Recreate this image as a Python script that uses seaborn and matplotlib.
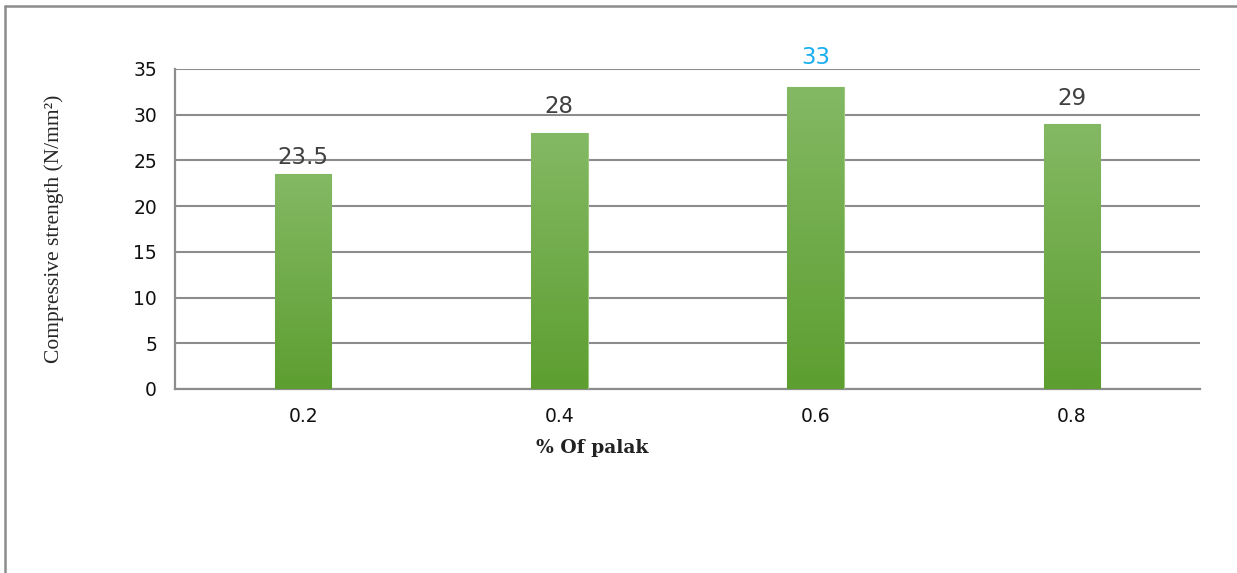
import numpy as np
import pandas as pd
import matplotlib
matplotlib.use("Agg")
import matplotlib.pyplot as plt
import seaborn as sns
from matplotlib.colors import LinearSegmentedColormap
from matplotlib.lines import Line2D

categories = ["0.2", "0.4", "0.6", "0.8"]
strength = [23.5, 28, 33, 29]
yticks = [0, 5, 10, 15, 20, 25, 30, 35]

df = pd.DataFrame({"palak": categories, "strength": strength})

sns.set_style("white")
plt.rcParams["font.family"] = ["DejaVu Sans"]
fig = plt.figure(figsize=(12.37, 5.73), dpi=100)
ax = fig.add_axes([175/1237, 1-389/573, 1025/1237, 320/573])

sns.barplot(data=df, x="palak", y="strength", order=categories, color="#70ad47",
            width=0.22, saturation=1, ax=ax, zorder=3)

ax.set_xlim(-0.5, 3.5)
ax.set_ylim(0, 35)
ax.set_yticks(yticks)
ax.set_yticklabels([str(t) for t in yticks])

# gradient fill
cmap = LinearSegmentedColormap.from_list("g", ["#5d9e30", "#84b964"])
grad = np.linspace(0, 1, 256).reshape(-1, 1)
for p in ax.patches:
    x0, y0 = p.get_x(), p.get_y()
    w, h = p.get_width(), p.get_height()
    im = ax.imshow(grad, cmap=cmap, aspect="auto", origin="lower",
                   extent=[x0, x0 + w, y0, y0 + h], zorder=3)
    im.set_clip_path(p)
    p.set_facecolor("none")
    p.set_edgecolor("#9cc884")
    p.set_linewidth(0.8)
ax.set_xlim(-0.5, 3.5)
ax.set_ylim(0, 35)

gc = "#8c8c8c"
ax.yaxis.grid(True, color=gc, linewidth=1.5, zorder=0)
ax.set_axisbelow(True)
for s in ["top", "right"]:
    ax.spines[s].set_visible(False)
for s in ["left", "bottom"]:
    ax.spines[s].set_color(gc)
    ax.spines[s].set_linewidth(1.6)
ax.tick_params(axis="both", length=0, labelsize=13.5, colors="#111111")
ax.tick_params(axis="y", pad=13)
ax.tick_params(axis="x", pad=13)

label_colors = ["#404040", "#404040", "#1aaef0", "#404040"]
offsets = [3.5, 11, 13.5, 10]
for i, (v, c, o) in enumerate(zip(strength, label_colors, offsets)):
    ax.annotate(f"{v:g}", (i, v), xytext=(0, o), textcoords="offset points",
                ha="center", va="bottom", fontsize=16.5, color=c, zorder=5)

ax.set_xlabel("% Of palak", family="DejaVu Serif", fontsize=13.5, fontweight="bold",
              color="#222222")
ax.xaxis.set_label_coords((592-175)/1025, -(439-389)/320)
ax.set_ylabel("Compressive strength (N/mm²)", family="Liberation Serif",
              fontsize=15.5)
ax.yaxis.set_label_coords(-(175-64)/1025, 0.5)

# outer frame (top and left edges)
fig.add_artist(Line2D([5/1237, 1], [1-6/573, 1-6/573], color=gc, lw=1.8,
                      transform=fig.transFigure))
fig.add_artist(Line2D([5/1237, 5/1237], [0, 1-6/573], color=gc, lw=1.8,
                      transform=fig.transFigure))

fig.savefig("out.png", dpi=100)
